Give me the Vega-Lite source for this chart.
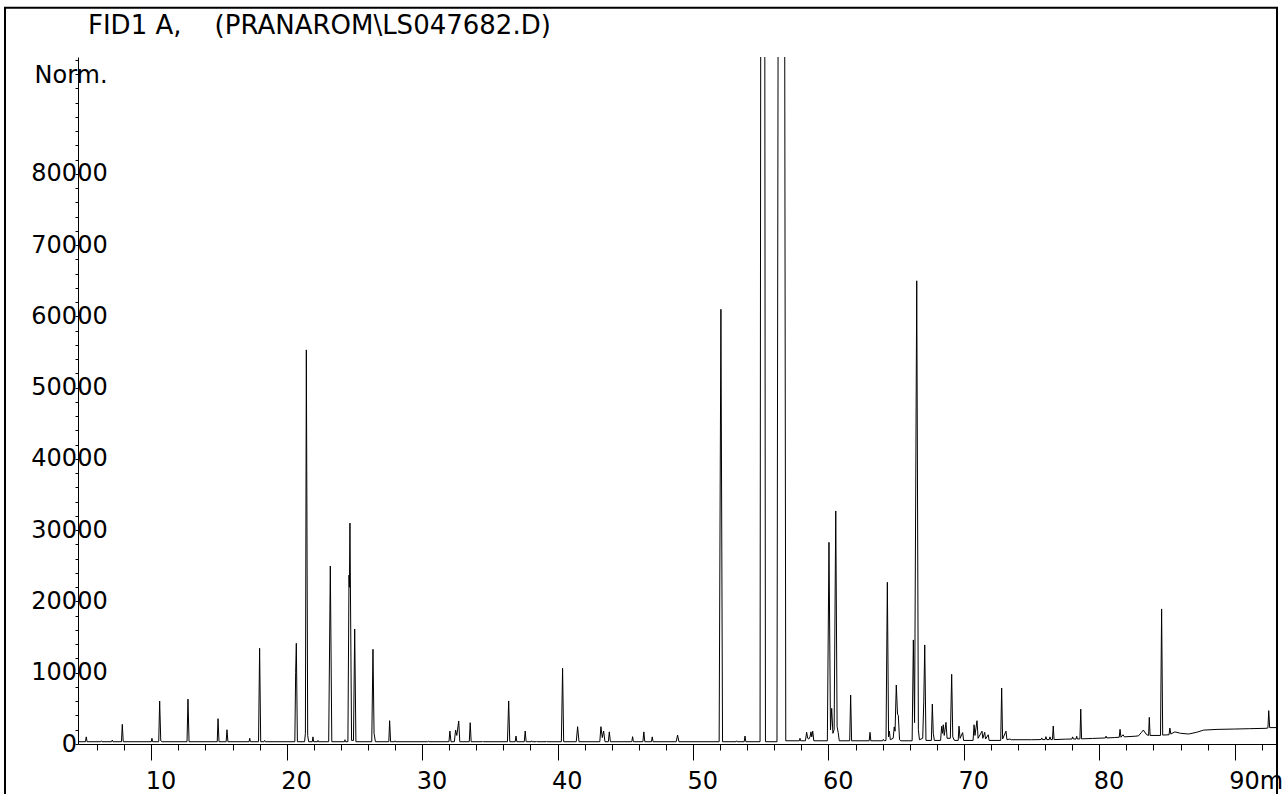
{
  "$schema": "https://vega.github.io/schema/vega-lite/v6.json",
  "width": 1199,
  "height": 687,
  "autosize": {"type": "none"},
  "padding": {"left": 78, "top": 57, "right": 10, "bottom": 50},
  "background": "white",
  "config": {"view": {"stroke": null}, "font": "DejaVu Sans", "axis": {"labelOverlap": false, "labelBound": false, "labelFlush": false, "labelSeparation": 0}},
  "title": {
    "text": "FID1 A,\u00a0\u00a0\u00a0\u00a0(PRANAROM\\LS047682.D)",
    "anchor": "start",
    "frame": "group",
    "orient": "top",
    "font": "DejaVu Sans",
    "fontSize": 26,
    "fontWeight": "normal",
    "color": "black",
    "baseline": "alphabetic",
    "offset": 0,
    "dx": 10,
    "dy": 53
  },
  "layer": [
    {
      "data": {"values": [
        {"t":4.59,"v":320},
        {"t":5.14,"v":320},{"t":5.2,"v":1000},{"t":5.26,"v":320},
        {"t":6.26,"v":320},{"t":6.31,"v":450},{"t":6.36,"v":320},
        {"t":7.07,"v":320},{"t":7.12,"v":550},{"t":7.17,"v":320},
        {"t":7.8,"v":320},{"t":7.86,"v":2760},{"t":7.93,"v":320},
        {"t":10.0,"v":320},{"t":10.05,"v":800},{"t":10.1,"v":320},
        {"t":10.55,"v":320},{"t":10.62,"v":6030},{"t":10.7,"v":450},{"t":10.8,"v":320},
        {"t":12.64,"v":320},{"t":12.71,"v":6300},{"t":12.79,"v":320},
        {"t":14.87,"v":320},{"t":14.93,"v":3550},{"t":15.0,"v":320},
        {"t":15.53,"v":320},{"t":15.59,"v":2000},{"t":15.66,"v":320},
        {"t":17.22,"v":320},{"t":17.27,"v":800},{"t":17.32,"v":320},
        {"t":17.92,"v":320},{"t":18.0,"v":13430},{"t":18.08,"v":320},
        {"t":18.32,"v":320},{"t":18.37,"v":500},{"t":18.42,"v":320},
        {"t":20.6,"v":320},{"t":20.66,"v":10000},{"t":20.71,"v":14130},{"t":20.79,"v":320},
        {"t":21.32,"v":320},{"t":21.38,"v":1500},{"t":21.45,"v":55300},{"t":21.55,"v":1200},{"t":21.62,"v":320},
        {"t":21.89,"v":320},{"t":21.94,"v":1000},{"t":21.99,"v":320},
        {"t":22.27,"v":320},{"t":22.31,"v":500},{"t":22.35,"v":320},
        {"t":23.1,"v":320},{"t":23.22,"v":24980},{"t":23.33,"v":320},
        {"t":24.26,"v":320},{"t":24.3,"v":600},{"t":24.34,"v":320},
        {"t":24.52,"v":320},{"t":24.6,"v":23700},{"t":24.63,"v":22000},{"t":24.67,"v":31000},{"t":24.79,"v":500},
        {"t":24.93,"v":500},{"t":25.02,"v":16140},{"t":25.11,"v":320},
        {"t":26.28,"v":320},{"t":26.37,"v":13290},{"t":26.45,"v":1500},{"t":26.55,"v":320},
        {"t":27.54,"v":320},{"t":27.6,"v":3270},{"t":27.67,"v":320},
        {"t":27.96,"v":320},{"t":28.0,"v":450},{"t":28.04,"v":320},
        {"t":30.4,"v":320},{"t":30.45,"v":400},{"t":30.5,"v":320},
        {"t":31.98,"v":320},{"t":32.05,"v":1820},{"t":32.13,"v":320},{"t":32.38,"v":320},{"t":32.47,"v":1960},{"t":32.56,"v":1200},{"t":32.7,"v":3230},{"t":32.78,"v":320},
        {"t":33.48,"v":320},{"t":33.55,"v":2990},{"t":33.62,"v":320},
        {"t":34.43,"v":320},{"t":34.47,"v":400},{"t":34.51,"v":320},
        {"t":36.3,"v":320},{"t":36.39,"v":6040},{"t":36.47,"v":320},
        {"t":36.87,"v":320},{"t":36.93,"v":1120},{"t":36.99,"v":320},
        {"t":37.54,"v":320},{"t":37.61,"v":1820},{"t":37.68,"v":320},
        {"t":38.05,"v":320},{"t":38.09,"v":450},{"t":38.13,"v":320},
        {"t":38.41,"v":320},{"t":38.45,"v":420},{"t":38.49,"v":320},
        {"t":39.15,"v":320},{"t":39.19,"v":420},{"t":39.23,"v":320},
        {"t":40.28,"v":320},{"t":40.37,"v":10620},{"t":40.45,"v":320},
        {"t":41.38,"v":320},{"t":41.48,"v":2430},{"t":41.58,"v":320},
        {"t":43.12,"v":320},{"t":43.2,"v":2430},{"t":43.3,"v":900},{"t":43.4,"v":1820},{"t":43.5,"v":320},
        {"t":43.75,"v":320},{"t":43.82,"v":1700},{"t":43.9,"v":320},
        {"t":45.48,"v":320},{"t":45.54,"v":1030},{"t":45.6,"v":320},
        {"t":46.3,"v":320},{"t":46.37,"v":1700},{"t":46.44,"v":320},
        {"t":46.93,"v":320},{"t":46.99,"v":1000},{"t":47.05,"v":320},
        {"t":48.76,"v":320},{"t":48.86,"v":1260},{"t":48.96,"v":320},
        {"t":51.93,"v":320},{"t":52.06,"v":61000},{"t":52.18,"v":320},
        {"t":53.18,"v":320},{"t":53.22,"v":450},{"t":53.26,"v":320},
        {"t":53.78,"v":320},{"t":53.84,"v":1120},{"t":53.9,"v":320},
        {"t":54.95,"v":320},{"t":55.15,"v":400000},{"t":55.35,"v":320},
        {"t":56.2,"v":320},{"t":56.53,"v":400000},{"t":56.85,"v":450},
        {"t":57.85,"v":450},{"t":57.9,"v":800},{"t":57.95,"v":450},
        {"t":58.3,"v":450},{"t":58.39,"v":1640},{"t":58.47,"v":800},{"t":58.55,"v":700},{"t":58.64,"v":1000},{"t":58.71,"v":1700},{"t":58.77,"v":1000},{"t":58.84,"v":1800},{"t":58.92,"v":450},
        {"t":59.92,"v":450},{"t":60.04,"v":28300},{"t":60.15,"v":2000},{"t":60.24,"v":5000},{"t":60.33,"v":1500},{"t":60.42,"v":2000},{"t":60.54,"v":32700},{"t":60.64,"v":2430},{"t":60.72,"v":1600},{"t":60.8,"v":450},
        {"t":61.57,"v":450},{"t":61.64,"v":6880},{"t":61.71,"v":450},
        {"t":63.01,"v":450},{"t":63.07,"v":1640},{"t":63.13,"v":450},
        {"t":64.0,"v":450},{"t":64.05,"v":650},{"t":64.12,"v":450},
        {"t":64.25,"v":500},{"t":64.35,"v":22690},{"t":64.44,"v":1000},{"t":64.5,"v":1800},{"t":64.57,"v":600},{"t":64.78,"v":800},{"t":64.86,"v":2400},{"t":64.92,"v":1800},{"t":65.01,"v":8280},{"t":65.1,"v":4200},{"t":65.16,"v":4000},{"t":65.25,"v":600},{"t":65.35,"v":450},
        {"t":66.18,"v":450},{"t":66.27,"v":14600},{"t":66.36,"v":3000},{"t":66.52,"v":65000},{"t":66.64,"v":2000},{"t":66.72,"v":600},
        {"t":66.96,"v":800},{"t":67.04,"v":6000},{"t":67.11,"v":13900},{"t":67.2,"v":500},
        {"t":67.6,"v":500},{"t":67.67,"v":5600},{"t":67.74,"v":1500},{"t":67.82,"v":500},
        {"t":68.28,"v":500},{"t":68.36,"v":2500},{"t":68.42,"v":1500},{"t":68.48,"v":2700},{"t":68.55,"v":1200},{"t":68.68,"v":3040},{"t":68.76,"v":800},
        {"t":69.0,"v":800},{"t":69.1,"v":9780},{"t":69.18,"v":1000},{"t":69.3,"v":500},
        {"t":69.58,"v":500},{"t":69.64,"v":2500},{"t":69.72,"v":800},{"t":69.91,"v":1600},{"t":69.98,"v":500},
        {"t":70.68,"v":500},{"t":70.75,"v":2700},{"t":70.82,"v":1200},{"t":70.97,"v":3270},{"t":71.05,"v":800},{"t":71.34,"v":1800},{"t":71.4,"v":800},{"t":71.54,"v":1640},{"t":71.6,"v":700},{"t":71.8,"v":1300},{"t":71.86,"v":500},
        {"t":72.72,"v":500},{"t":72.79,"v":7860},{"t":72.86,"v":700},{"t":73.11,"v":1800},{"t":73.18,"v":600},
        {"t":73.4,"v":700},{"t":73.5,"v":600},
        {"t":75.0,"v":600},
        {"t":75.7,"v":620},{"t":75.75,"v":850},{"t":75.8,"v":620},
        {"t":76.0,"v":620},{"t":76.06,"v":1030},{"t":76.12,"v":620},{"t":76.3,"v":620},{"t":76.36,"v":1000},{"t":76.42,"v":620},{"t":76.54,"v":620},{"t":76.6,"v":2530},{"t":76.66,"v":620},
        {"t":77.5,"v":680},
        {"t":77.98,"v":700},{"t":78.03,"v":1000},{"t":78.08,"v":700},{"t":78.28,"v":700},{"t":78.33,"v":1100},{"t":78.38,"v":700},{"t":78.57,"v":720},{"t":78.63,"v":4900},{"t":78.69,"v":720},
        {"t":79.5,"v":780},
        {"t":80.45,"v":850},{"t":80.5,"v":1100},{"t":80.55,"v":850},
        {"t":81.1,"v":900},{"t":81.47,"v":950},{"t":81.53,"v":2060},{"t":81.6,"v":950},{"t":81.75,"v":1300},{"t":81.85,"v":1000},
        {"t":82.7,"v":1100},
        {"t":82.9,"v":1150},{"t":83.1,"v":1600},{"t":83.25,"v":1960},{"t":83.45,"v":1400},{"t":83.6,"v":1200},
        {"t":83.64,"v":1200},{"t":83.69,"v":3740},{"t":83.75,"v":1200},
        {"t":84.52,"v":1200},{"t":84.6,"v":18950},{"t":84.68,"v":1250},
        {"t":85.15,"v":1300},{"t":85.21,"v":2240},{"t":85.28,"v":1400},{"t":85.58,"v":1700},{"t":86.0,"v":1500},{"t":86.6,"v":1400},{"t":87.2,"v":1650},{"t":87.7,"v":1950},{"t":88.7,"v":2050},{"t":90.0,"v":2100},{"t":91.1,"v":2150},{"t":92.3,"v":2200},
        {"t":92.45,"v":2250},{"t":92.51,"v":4680},{"t":92.58,"v":2300},
        {"t":93.12,"v":2300}
      ]},
      "mark": {"type": "line", "color": "black", "strokeWidth": 1, "clip": true},
      "encoding": {
        "x": {
          "field": "t",
          "type": "quantitative",
          "scale": {"domain": [4.59, 93.12], "nice": false, "zero": false},
          "axis": {
            "title": null,
            "values": [6,8,10,12,14,16,18,20,22,24,26,28,30,32,34,36,38,40,42,44,46,48,50,52,54,56,58,60,62,64,66,68,70,72,74,76,78,80,82,84,86,88,90,92],
            "tickCount": 200,
            "format": "d",
            "grid": false,
            "domainColor": "black",
            "domainWidth": 1,
            "tickColor": "black",
            "tickWidth": 1,
            "tickSize": {"condition": {"test": "datum.value % 10 === 0", "value": 16}, "value": 6},
            "labelExpr": "datum.value % 10 === 0 ? (datum.value === 90 ? '90m' : datum.label) : ''",
            "labelAlign": "left",
            "labelOffset": -6,
            "labelBaseline": "alphabetic",
            "labelPadding": 28,
            "labelFont": "DejaVu Sans",
            "labelFontSize": 24,
            "labelColor": "black",
            "labelFlush": false,
            "labelOverlap": false,
            "labelBound": false
          }
        },
        "y": {
          "field": "v",
          "type": "quantitative",
          "scale": {"domain": [0, 96400], "nice": false, "zero": false},
          "axis": {
            "title": "Norm.",
            "titleAngle": 0,
            "titleAlign": "left",
            "titleBaseline": "alphabetic",
            "titleX": -44,
            "titleY": 25,
            "titleFont": "DejaVu Sans",
            "titleFontSize": 24,
            "titleFontWeight": "normal",
            "titleColor": "black",
            "values": [0,2000,4000,6000,8000,10000,12000,14000,16000,18000,20000,22000,24000,26000,28000,30000,32000,34000,36000,38000,40000,42000,44000,46000,48000,50000,52000,54000,56000,58000,60000,62000,64000,66000,68000,70000,72000,74000,76000,78000,80000,82000,84000,86000,88000,90000,92000,94000,96000],
            "tickCount": 200,
            "format": "d",
            "labelExpr": "(datum.value % 10000 === 0 && datum.value <= 80000) ? datum.label : ''",
            "grid": false,
            "domainColor": "black",
            "domainWidth": 1,
            "tickColor": "black",
            "tickWidth": 1,
            "tickSize": 3,
            "labelAlign": "center",
            "labelBaseline": "middle",
            "labelPadding": 6,
            "labelFont": "DejaVu Sans",
            "labelFontSize": 24,
            "labelColor": "black",
            "labelFlush": false,
            "labelOverlap": false,
            "labelBound": false
          }
        }
      }
    },
    {
      "data": {"values": [{}]},
      "mark": {"type": "rect", "filled": false, "stroke": "black", "strokeWidth": 2, "clip": false},
      "encoding": {
        "x": {"datum": -0.8, "type": "quantitative"},
        "x2": {"datum": 93.12},
        "y": {"datum": 103300, "type": "quantitative"},
        "y2": {"datum": -8000}
      }
    }
  ]
}
